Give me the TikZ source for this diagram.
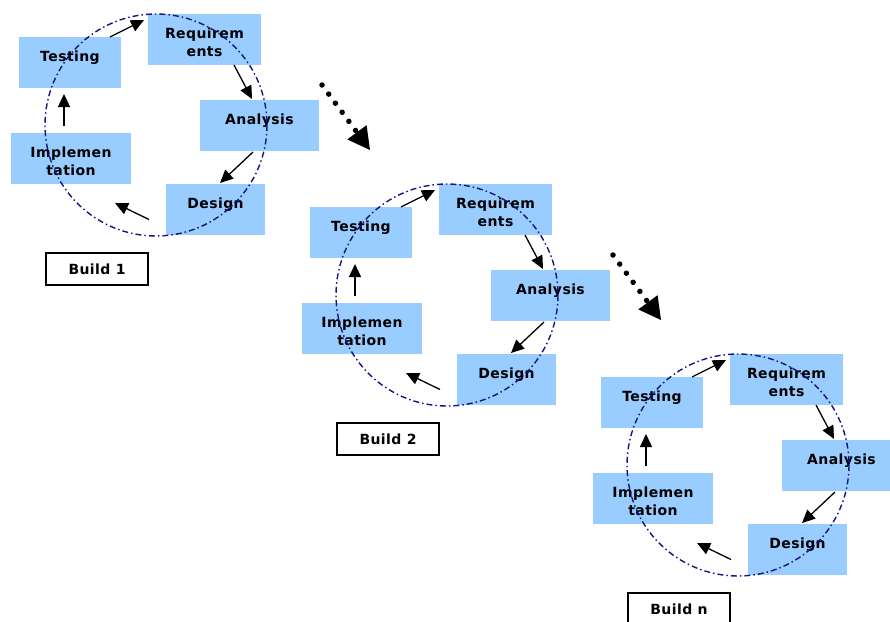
\documentclass[tikz,border=0pt]{standalone}
\usepackage{fontspec}
\newfontfamily\lblfont{DejaVu Sans}[LetterSpace=3]
\usetikzlibrary{arrows.meta}
\definecolor{boxblue}{RGB}{153,204,255}
\definecolor{circblue}{RGB}{20,20,130}
\newcommand\bxtext[2]{\parbox[c][51pt][t]{#1}{\centering\lblfont\bfseries\fontsize{14}{18}\selectfont\rule{0pt}{24pt}#2}}
\tikzset{
  bx/.style={fill=boxblue, inner sep=0pt, outer sep=0pt},
  buildbox/.style={draw=black, line width=1.3pt, fill=white, minimum width=102pt, minimum height=32pt, inner sep=0pt, font=\lblfont\bfseries\fontsize{14}{16}\selectfont},
  circ/.style={draw=circblue, line width=1.4pt, dash pattern=on 6pt off 3pt on 1.5pt off 3pt},
  flowarrow/.style={draw=black, line width=1.3pt, -{Triangle[length=13pt,width=12pt]}},
  bigdots/.style={draw=black, line width=5.5pt, line cap=round, dash pattern=on 0pt off 11.3pt, -{Triangle[length=22pt,width=24pt,line width=0pt]}}
}
\newcommand\cluster[4]{%
\begin{scope}[shift={(#2,#3)}]
  \node[bx] (test#1) at (70,62.5) {\bxtext{102pt}{Testing}};
  \node[bx] (req#1) at (204.5,39.5) {\bxtext{113pt}{Requirem\\ents}};
  \node[bx] (ana#1) at (259.5,125.5) {\bxtext{119pt}{Analysis}};
  \node[bx] (imp#1) at (71,158.5) {\bxtext{120pt}{Implemen\\tation}};
  \node[bx] (des#1) at (215.5,209.5) {\bxtext{99pt}{Design}};
  \node[buildbox] (build#1) at (97,269) {#4};
  \draw[circ] (156,125) circle[radius=111];
  \draw[flowarrow] ([xshift=-11pt]test#1.north east) -- ([shift={(-4pt,-6pt)}]req#1.north west);
  \draw[flowarrow] ([xshift=86pt]req#1.south west) -- ([shift={(52pt,1pt)}]ana#1.north west);
  \draw[flowarrow] ([shift={(53pt,-1pt)}]ana#1.south west) -- ([shift={(54pt,1pt)}]des#1.north west);
  \draw[flowarrow] ([shift={(-17pt,-10pt)}]des#1.west) -- ([shift={(-16pt,-19pt)}]imp#1.south east);
  \draw[flowarrow] ([shift={(-7pt,7pt)}]imp#1.north) -- ([shift={(-6pt,-6pt)}]test#1.south);
\end{scope}}
\begin{document}
\begin{tikzpicture}[x=1pt,y=-1pt]
  \useasboundingbox (0,0) rectangle (890,621);
  \clip (0,0) rectangle (890,621);
  \cluster{1}{0}{0}{Build 1}
  \cluster{2}{291}{170}{Build 2}
  \cluster{3}{582}{340}{Build n}
  \coordinate (d1s) at (322,85);
  \coordinate (d1e) at (370,150);
  \coordinate (d2s) at (613,255);
  \coordinate (d2e) at (661,320);
  \draw[bigdots] (d1s) -- (d1e);
  \draw[bigdots] (d2s) -- (d2e);
\end{tikzpicture}
\end{document}
